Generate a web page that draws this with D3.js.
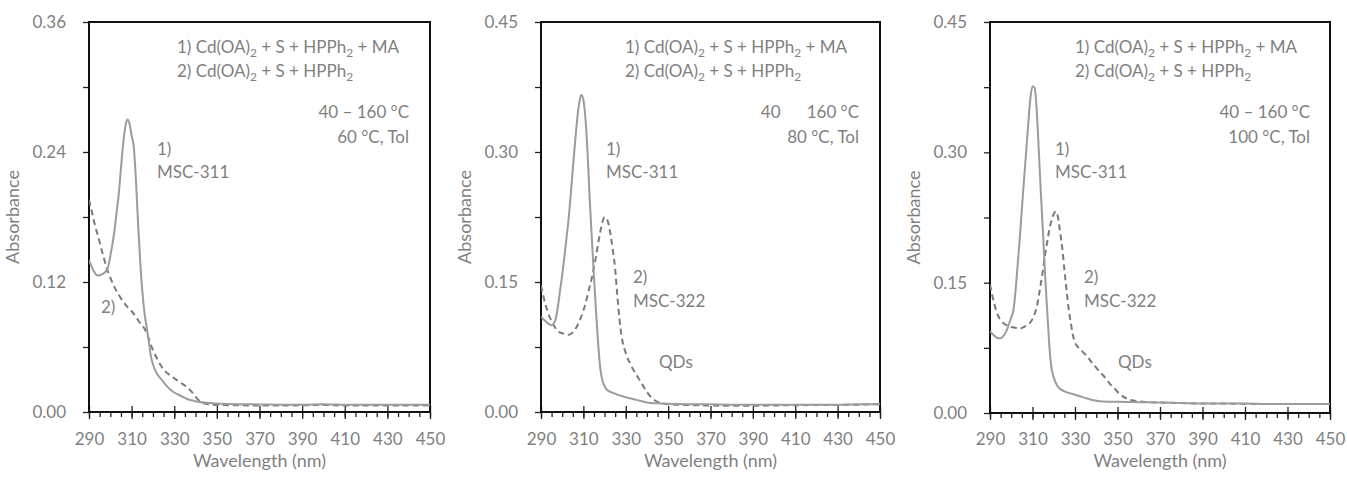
<!DOCTYPE html>
<html>
<head>
<meta charset="utf-8">
<script src="https://cdn.jsdelivr.net/npm/d3@7"></script>
<style>
  body { margin: 0; background: #fff; }
  text { font-family: Lato, "Open Sans", sans-serif; fill: #7f7f7f; }
</style>
</head>
<body>
<svg id="chart" width="1347" height="477"></svg>
<script>
// ---- data ----
var xTicks = [290, 310, 330, 350, 370, 390, 410, 430, 450];

// panel 1 : 60 °C
var wl1a  = [290,292,294,296,298,299,300,301,302,303,304,305,306,307,308,309,310,311,312,313,314,315,316,317,318,319,320,322,324,326,328,330,333,336,340,345,350,360,370,380,390,400,410,420,430,440,450];
var abs1a = [0.140,0.131,0.126,0.127,0.130,0.134,0.144,0.155,0.168,0.185,0.202,0.225,0.247,0.263,0.270,0.266,0.255,0.245,0.215,0.175,0.140,0.112,0.092,0.079,0.066,0.052,0.044,0.035,0.030,0.025,0.021,0.018,0.015,0.012,0.010,0.0085,0.0078,0.0072,0.0070,0.0068,0.0068,0.0072,0.0068,0.0066,0.0066,0.0067,0.0068];
var wl1b  = [290,291,292,293,294,295,296,297,298,299,300,302,304,306,308,310,312,314,316,318,320,322,324,326,328,330,333,336,338,340,342,345,350,360,370,380,390,400,410,420,430,440,450];
var abs1b = [0.196,0.188,0.179,0.171,0.164,0.157,0.149,0.142,0.135,0.129,0.124,0.115,0.108,0.102,0.097,0.093,0.088,0.082,0.077,0.068,0.057,0.049,0.042,0.037,0.034,0.031,0.027,0.023,0.019,0.014,0.010,0.0075,0.0065,0.0062,0.0060,0.0060,0.0062,0.0065,0.0060,0.0060,0.0060,0.0060,0.0062];

// panel 2 : 80 °C
var wl2a  = [290,292,294,295,296,297,298,299,300,301,302,303,304,305,306,307,308,309,310,311,312,313,314,315,316,317,318,319,320,321,324,326,330,335,340,345,350,360,370,380,390,400,410,420,430,440,450];
var abs2a = [0.110,0.105,0.101,0.100,0.102,0.108,0.122,0.140,0.158,0.178,0.200,0.222,0.250,0.280,0.309,0.336,0.356,0.366,0.360,0.338,0.298,0.245,0.200,0.156,0.115,0.078,0.050,0.036,0.030,0.026,0.022,0.020,0.017,0.014,0.011,0.010,0.0095,0.0090,0.0088,0.0085,0.0085,0.0085,0.0085,0.0085,0.0085,0.0088,0.0090];
var wl2b  = [290,291,292,293,294,295,296,297,298,300,302,303,304,305,306,307,308,309,310,311,312,313,314,315,316,317,318,319,320,321,322,323,324,325,326,327,328,329,330,332,334,336,338,340,342,344,346,350,360,370,380,390,400,410,420,430,440,450];
var abs2b = [0.146,0.135,0.125,0.117,0.110,0.105,0.100,0.096,0.093,0.091,0.089,0.089,0.090,0.092,0.095,0.099,0.104,0.110,0.117,0.125,0.135,0.145,0.155,0.167,0.180,0.195,0.208,0.219,0.225,0.223,0.216,0.202,0.185,0.165,0.135,0.108,0.088,0.076,0.068,0.056,0.047,0.039,0.031,0.023,0.017,0.013,0.011,0.009,0.008,0.0075,0.0072,0.0072,0.0075,0.0078,0.0080,0.0082,0.0085,0.0090];

// panel 3 : 100 °C
var wl3a  = [290,292,294,295,296,297,298,299,300,301,302,303,304,305,306,307,308,309,310,311,312,313,314,315,316,317,318,319,320,322,325,330,334,338,345,350,360,370,380,390,400,410,420,430,440,450];
var abs3a = [0.094,0.089,0.086,0.086,0.088,0.091,0.096,0.103,0.110,0.118,0.140,0.170,0.201,0.235,0.268,0.300,0.333,0.362,0.376,0.374,0.348,0.300,0.250,0.205,0.155,0.115,0.075,0.051,0.041,0.030,0.025,0.021,0.018,0.015,0.013,0.013,0.0125,0.012,0.0115,0.011,0.011,0.011,0.0105,0.0105,0.0105,0.0104];
var wl3b  = [290,291,292,293,294,295,296,298,300,302,304,306,308,310,311,312,313,314,315,316,317,318,319,320,321,322,323,324,325,326,327,328,329,330,331,333,335,337,339,341,343,345,347,349,351,354,358,362,370,380,390,400,410,420,430,440,450];
var abs3b = [0.148,0.136,0.126,0.117,0.111,0.107,0.104,0.101,0.099,0.098,0.097,0.099,0.102,0.108,0.114,0.122,0.135,0.150,0.166,0.183,0.198,0.212,0.222,0.229,0.232,0.225,0.208,0.190,0.165,0.142,0.120,0.104,0.090,0.081,0.077,0.072,0.067,0.061,0.055,0.049,0.044,0.038,0.032,0.027,0.022,0.017,0.014,0.013,0.012,0.0115,0.011,0.011,0.0105,0.0105,0.0105,0.0105,0.0104];

var yMax   = [0.36, 0.45, 0.45];
var yStep  = [0.12, 0.15, 0.15];
var tempLabels = ["60 °C, Tol", "80 °C, Tol", "100 °C, Tol"];
var rangeLabels = ["40 – 160 °C", "40\u00a0\u00a0\u00a0\u00a0\u00a0\u00a0160 °C", "40 – 160 °C"];
var formula1 = ["1) Cd(OA)", "2", " + S + HPPh", "2", " + MA"];
var formula2 = ["2) Cd(OA)", "2", " + S + HPPh", "2"];

// ---- layout ----
var panels = [
  { left: 89,  right: 430,  top: 22, bottom: 412, a: [wl1a, abs1a], b: [wl1b, abs1b],
    txt: { fx: 177, rx: 409, l1: [157, 155], l2: null, qd: null, l2b: [101, 313] } },
  { left: 541, right: 880,  top: 22, bottom: 412, a: [wl2a, abs2a], b: [wl2b, abs2b],
    txt: { fx: 625, rx: 859, l1: [606, 155], l2: [633, 283], qd: [659, 368] } },
  { left: 990, right: 1330, top: 22, bottom: 413, a: [wl3a, abs3a], b: [wl3b, abs3b],
    txt: { fx: 1075, rx: 1310, l1: [1055, 155], l2: [1084, 283], qd: [1118, 368] } }
];

var svg = d3.select("#chart");

function addFormula(g, x, y, parts) {
  var t = g.append("text").attr("x", x).attr("y", y).attr("font-size", 17);
  parts.forEach(function (s, i) {
    if (i % 2 == 0) {
      t.append("tspan").attr("dy", i == 0 ? 0 : -4).text(s);
    } else {
      t.append("tspan").attr("dy", 4).attr("font-size", 12).text(s);
    }
  });
}

function label(g, x, y, s, anchor) {
  g.append("text").attr("x", x).attr("y", y).attr("font-size", 17)
    .attr("text-anchor", anchor || "start").text(s);
}

panels.forEach(function (p, i) {
  var g = svg.append("g");

  var x = d3.scaleLinear().domain([290, 450]).range([p.left, p.right]);
  var y = d3.scaleLinear().domain([0, yMax[i]]).range([p.bottom, p.top]);

  // clip so the curves stay in the frame
  svg.append("clipPath").attr("id", "clip" + i)
    .append("rect").attr("x", p.left).attr("y", p.top)
    .attr("width", p.right - p.left).attr("height", p.bottom - p.top);

  // minor x ticks every 5 nm
  g.append("g")
    .attr("transform", "translate(0," + p.bottom + ")")
    .call(d3.axisBottom(x).tickValues(d3.range(290, 451, 5)).tickSize(5).tickFormat(""))
    .call(function (a) { a.select(".domain").remove(); a.selectAll("line").attr("stroke", "#222").attr("stroke-width", 1.3); });

  // major x ticks with labels
  g.append("g")
    .attr("transform", "translate(0," + p.bottom + ")")
    .call(d3.axisBottom(x).tickValues(xTicks).tickSize(7).tickFormat(d3.format("d")))
    .call(function (a) {
      a.select(".domain").remove();
      a.selectAll("line").attr("y1", -6).attr("stroke", "#222").attr("stroke-width", 1.3);
      a.selectAll("text").attr("y", 445 - p.bottom).attr("dy", null)
        .attr("font-size", 17).attr("font-family", null).attr("fill", null);
    });

  // y ticks: minor every half step, labels every step
  g.append("g")
    .attr("transform", "translate(" + p.left + ",0)")
    .call(d3.axisLeft(y).tickValues(d3.range(0, yMax[i] + 1e-6, yStep[i] / 2)).tickSize(6).tickFormat(""))
    .call(function (a) { a.select(".domain").remove(); a.selectAll("line").attr("stroke", "#222").attr("stroke-width", 1.3); });

  g.append("g")
    .attr("transform", "translate(" + p.left + ",0)")
    .call(d3.axisLeft(y).tickValues(d3.range(0, yMax[i] + 1e-6, yStep[i])).tickSize(6).tickPadding(17).tickFormat(d3.format(".2f")))
    .call(function (a) {
      a.select(".domain").remove();
      a.selectAll("line").remove();
      a.selectAll("text").attr("font-size", 17).attr("font-family", null).attr("fill", null);
    });

  // frame
  g.append("rect")
    .attr("x", p.left).attr("y", p.top)
    .attr("width", p.right - p.left).attr("height", p.bottom - p.top)
    .attr("fill", "none").attr("stroke", "#111").attr("stroke-width", 2);

  // curves
  var line = d3.line()
    .x(function (d) { return x(d[0]); })
    .y(function (d) { return y(d[1]); })
    .curve(d3.curveMonotoneX);

  var ptsA = p.a[0].map(function (w, k) { return [w, p.a[1][k]]; });
  var ptsB = p.b[0].map(function (w, k) { return [w, p.b[1][k]]; });

  g.append("path").datum(ptsB)
    .attr("clip-path", "url(#clip" + i + ")")
    .attr("d", line).attr("fill", "none")
    .attr("stroke", "#7a7a7a").attr("stroke-width", 2).attr("stroke-dasharray", "6,4");

  g.append("path").datum(ptsA)
    .attr("clip-path", "url(#clip" + i + ")")
    .attr("d", line).attr("fill", "none")
    .attr("stroke", "#9c9c9c").attr("stroke-width", 2);

  // axis titles
  g.append("text")
    .attr("x", (p.left + p.right) / 2).attr("y", 467)
    .attr("text-anchor", "middle").attr("font-size", 18)
    .text("Wavelength (nm)");

  g.append("text")
    .attr("transform", "translate(" + (p.left - 70) + "," + ((p.top + p.bottom) / 2) + ") rotate(-90)")
    .attr("text-anchor", "middle").attr("font-size", 18)
    .text("Absorbance");

  // annotations
  var t = p.txt;
  addFormula(g, t.fx, 53, formula1);
  addFormula(g, t.fx, 77, formula2);
  label(g, t.rx, 118, rangeLabels[i], "end");
  label(g, t.rx, 143, tempLabels[i], "end");
  label(g, t.l1[0], t.l1[1], "1)");
  label(g, t.l1[0], t.l1[1] + 23, "MSC-311");
  if (t.l2) {
    label(g, t.l2[0], t.l2[1], "2)");
    label(g, t.l2[0], t.l2[1] + 24, "MSC-322");
  }
  if (t.l2b) label(g, t.l2b[0], t.l2b[1], "2)");
  if (t.qd) label(g, t.qd[0], t.qd[1], "QDs");
});
</script>
</body>
</html>
